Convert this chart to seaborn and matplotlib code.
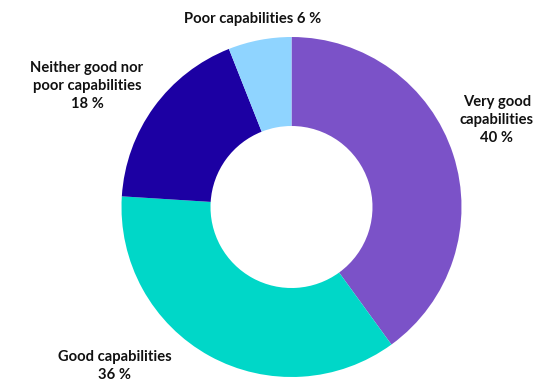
import matplotlib
matplotlib.use("Agg")
import matplotlib.pyplot as plt
import seaborn as sns

# Survey shares, drawn clockwise from 12 o'clock
categories = ["Very good\ncapabilities", "Good capabilities", "Neither good nor\npoor capabilities", "Poor capabilities"]
shares = [40, 36, 18, 6]
colors = ["#7B52C8", "#00D7C8", "#1C00A3", "#8FD4FF"]

sns.set_theme(style="white")
plt.rcParams["font.family"] = ["Lato", "DejaVu Sans"]

fig = plt.figure(figsize=(5.41, 3.83), dpi=100)
ax = fig.add_axes([0, 0, 1, 1])
ax.axis("off")

ax.pie(shares, colors=colors, startangle=90, counterclock=False,
       center=(291.5, 176), radius=170,
       wedgeprops=dict(width=89, linewidth=0))
ax.set_xlim(0, 541)
ax.set_ylim(0, 383)
ax.set_aspect("equal")

# label anchors (x, y) for each category
label_pos = [(497, 263), (115, 17), (87, 297), (253, 364)]
for cat, val, (x, y) in zip(categories, shares, label_pos):
    sep = " " if cat.startswith("Poor") else "\n"
    ax.text(x, y, f"{cat}{sep}{val} %", ha="center", va="center", fontsize=10.6,
            fontweight="bold", color="#111111", linespacing=1.38)

fig.savefig("out.png", dpi=100)
